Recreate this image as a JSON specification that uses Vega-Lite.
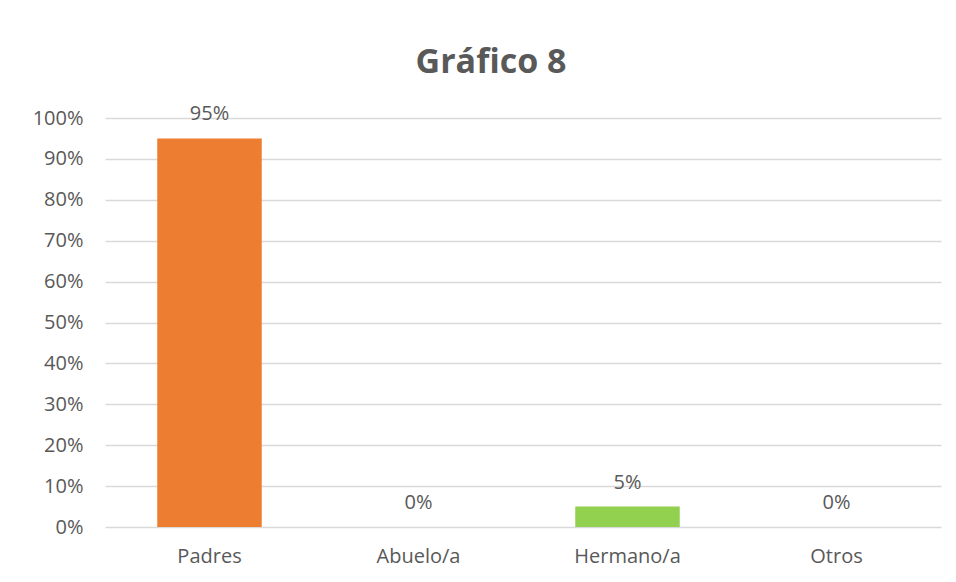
{
  "$schema": "https://vega.github.io/schema/vega-lite/v6.json",
  "width": 836,
  "height": 409,
  "autosize": "none",
  "padding": {"left": 105, "top": 118, "right": 15, "bottom": 55},
  "background": "white",
  "title": {
    "text": "Gráfico 8",
    "font": "Open Sans",
    "fontSize": 34,
    "fontWeight": "bold",
    "color": "#595959",
    "anchor": "middle",
    "dx": -32,
    "offset": 24
  },
  "data": {
    "values": [
      {"cat": "Padres", "val": 0.95, "color": "#ED7D31"},
      {"cat": "Abuelo/a", "val": 0.0, "color": "#A5A5A5"},
      {"cat": "Hermano/a", "val": 0.05, "color": "#92D050"},
      {"cat": "Otros", "val": 0.0, "color": "#FFC000"}
    ]
  },
  "config": {
    "view": {"stroke": null},
    "axis": {"labelFont": "Open Sans", "labelColor": "#595959", "labelFontSize": 20, "titleFont": "Open Sans"}
  },
  "encoding": {
    "x": {
      "field": "cat",
      "type": "nominal",
      "sort": null,
      "title": null,
      "scale": {"paddingInner": 0.5, "paddingOuter": 0.25},
      "axis": {"labelAngle": 0, "domain": false, "ticks": false, "labelPadding": 19}
    },
    "y": {
      "field": "val",
      "type": "quantitative",
      "title": null,
      "scale": {"domain": [0, 1], "nice": false},
      "axis": {
        "format": ".0%",
        "values": [0, 0.1, 0.2, 0.3, 0.4, 0.5, 0.6, 0.7, 0.8, 0.9, 1],
        "domain": false,
        "ticks": false,
        "labelPadding": 22,
        "gridColor": "#D9D9D9",
        "gridWidth": 1.5
      }
    }
  },
  "layer": [
    {
      "mark": {"type": "bar"},
      "encoding": {"color": {"field": "color", "type": "nominal", "scale": null}}
    },
    {
      "mark": {"type": "text", "dy": -24, "font": "Open Sans", "fontSize": 20, "color": "#595959", "baseline": "middle"},
      "encoding": {"text": {"field": "val", "type": "quantitative", "format": ".0%"}}
    }
  ]
}
